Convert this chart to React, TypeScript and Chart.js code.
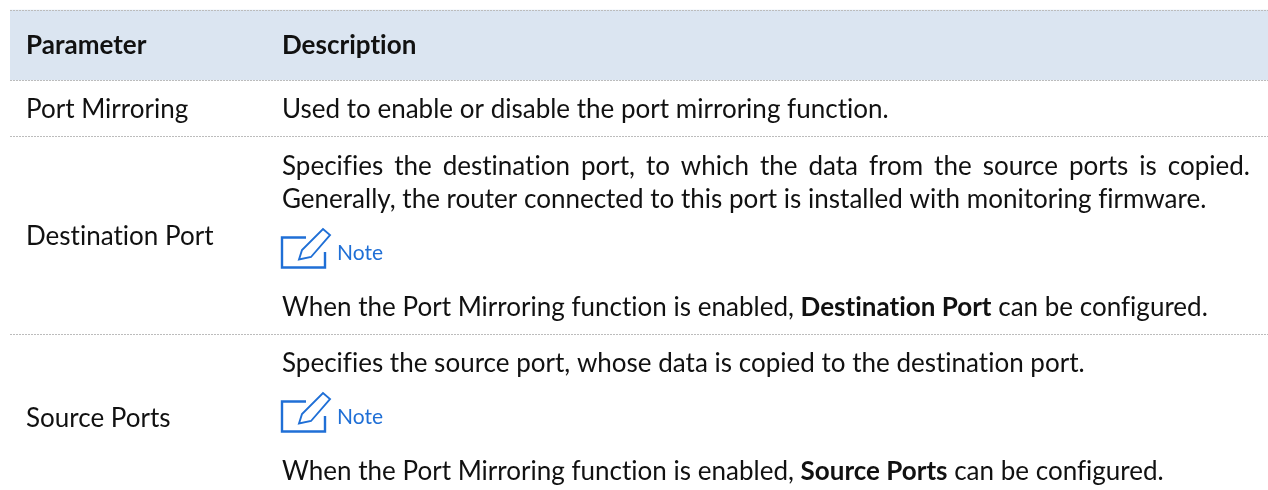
import React, { useEffect, useRef } from "react";
import { Chart, registerables } from "chart.js";

Chart.register(...registerables);

const headerLabels = ["Parameter", "Description"];
const parameterLabels = ["Port Mirroring", "Destination Port", "Source Ports"];
const noteLabel = "Note";
const ruleEdges = [10, 80, 136, 334];
const headerSpan = [10, 80];

type Run = { t: string; b?: boolean };
const descriptionLines: { runs: Run[]; y: number; justify?: boolean }[] = [
  { runs: [{ t: "Used to enable or disable the port mirroring function." }], y: 118 },
  { runs: [{ t: "Specifies the destination port, to which the data from the source ports is copied." }], y: 175, justify: true },
  { runs: [{ t: "Generally, the router connected to this port is installed with monitoring firmware." }], y: 208 },
  { runs: [{ t: "When the Port Mirroring function is enabled, " }, { t: "Destination Port", b: true }, { t: " can be configured." }], y: 316 },
  { runs: [{ t: "Specifies the source port, whose data is copied to the destination port." }], y: 372 },
  { runs: [{ t: "When the Port Mirroring function is enabled, " }, { t: "Source Ports", b: true }, { t: " can be configured." }], y: 480 },
];
const parameterBaselines = [118, 245, 427];
const noteBaselines = [260, 424];

const FONT = "Lato";
const SIZE = 26;
const TEXT = "#111111";
const BLUE = "#1f6fd6";
const COL1 = 26;
const COL2 = 282;
const COL_RIGHT = 1250;

const tablePlugin = {
  id: "tableText",
  afterDatasetsDraw(chart: any) {
    const { ctx } = chart;
    const y = chart.scales.y;
    ctx.save();
    ctx.textBaseline = "alphabetic";
    ctx.textAlign = "left";
    ctx.fillStyle = TEXT;
    ctx.letterSpacing = "0.01px";

    ctx.font = `bold ${SIZE}px ${FONT}`;
    ctx.fillText(headerLabels[0], COL1, y.getPixelForValue(54));
    ctx.fillText(headerLabels[1], COL2, y.getPixelForValue(54));

    ctx.font = `${SIZE}px ${FONT}`;
    parameterLabels.forEach((label, i) => ctx.fillText(label, COL1, y.getPixelForValue(parameterBaselines[i])));

    descriptionLines.forEach((line) => {
      let cx = COL2;
      const by = y.getPixelForValue(line.y);
      ctx.wordSpacing = "0px";
      if (line.justify) {
        ctx.font = `${SIZE}px ${FONT}`;
        const full = line.runs.map((r) => r.t).join("");
        const gaps = full.split(" ").length - 1;
        const extra = (COL_RIGHT - COL2 - ctx.measureText(full).width) / gaps;
        ctx.wordSpacing = `${extra}px`;
      }
      line.runs.forEach((r) => {
        ctx.font = `${r.b ? "bold " : ""}${SIZE}px ${FONT}`;
        ctx.fillText(r.t, cx, by);
        cx += ctx.measureText(r.t).width;
      });
      ctx.wordSpacing = "0px";
    });

    noteBaselines.forEach((b) => {
      const o = y.getPixelForValue(b);
      const l = COL2;
      ctx.strokeStyle = BLUE;
      ctx.lineWidth = 2.4;
      ctx.lineJoin = "miter";
      ctx.beginPath();
      ctx.moveTo(l + 24, o - 22.5);
      ctx.lineTo(l, o - 22.5);
      ctx.lineTo(l, o + 7.5);
      ctx.lineTo(l + 43, o + 7.5);
      ctx.lineTo(l + 43, o - 8);
      ctx.stroke();
      ctx.lineWidth = 1.9;
      ctx.beginPath();
      ctx.moveTo(l + 17, o - 0.5);
      ctx.lineTo(l + 20, o - 10);
      ctx.lineTo(l + 41, o - 31);
      ctx.lineTo(l + 48, o - 25);
      ctx.lineTo(l + 29, o - 3);
      ctx.closePath();
      ctx.stroke();
      ctx.fillStyle = BLUE;
      ctx.font = `21px ${FONT}`;
      ctx.fillText(noteLabel, l + 55, o);
      ctx.fillStyle = TEXT;
    });
    ctx.restore();
  },
};

export default function App() {
  const ref = useRef<HTMLCanvasElement>(null);
  useEffect(() => {
    document.body.style.margin = "0";
    const chart = new Chart(ref.current as HTMLCanvasElement, {
      type: "bar",
      data: {
        labels: [headerLabels.join(" ")],
        datasets: [
          {
            data: [headerSpan as any],
            backgroundColor: "#dbe5f1",
            barPercentage: 1,
            categoryPercentage: 1,
            borderWidth: 0,
          },
        ],
      },
      options: {
        responsive: false,
        animation: false,
        layout: { padding: { left: 10, right: 0, top: 0, bottom: 0 } },
        plugins: { legend: { display: false }, tooltip: { enabled: false } },
        scales: {
          x: { display: false },
          y: {
            reverse: true,
            min: 0,
            max: 490,
            border: { display: false, dash: [2, 1] },
            grid: { color: "#bcbcbc", lineWidth: 1, drawTicks: false, z: 1 },
            ticks: { display: false, autoSkip: false },
            afterBuildTicks(scale: any) {
              scale.ticks = ruleEdges.map((value) => ({ value }));
            },
            afterFit(scale: any) {
              scale.width = 0;
            },
          },
        },
      },
      plugins: [tablePlugin],
    });
    return () => chart.destroy();
  }, []);
  return <canvas ref={ref} width={1268} height={490} style={{ display: "block" }} />;
}
